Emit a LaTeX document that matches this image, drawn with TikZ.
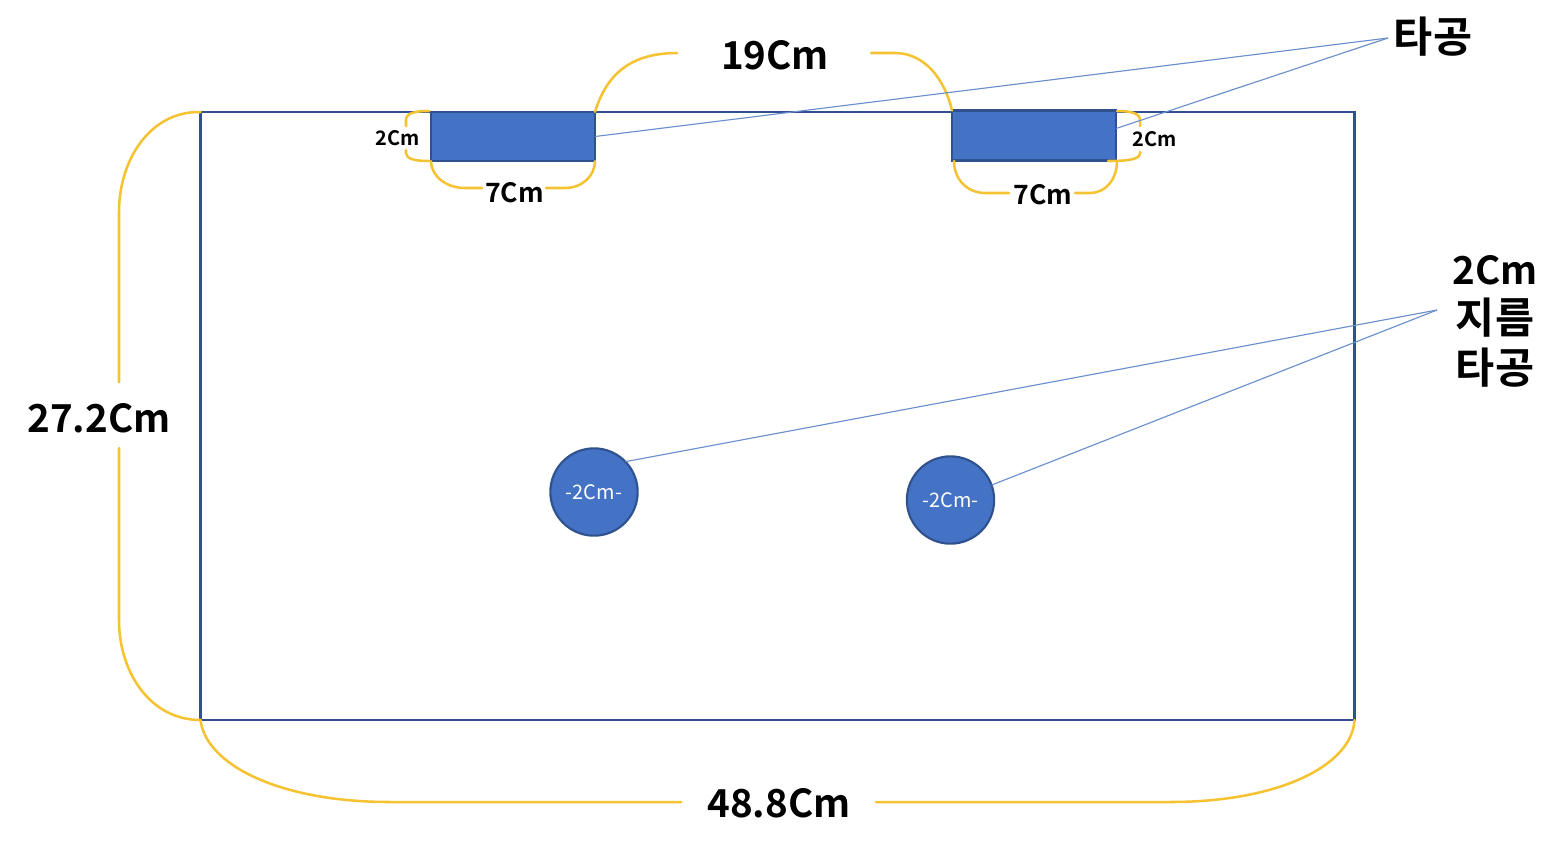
\documentclass[tikz,border=0pt]{standalone}
\usepackage{fontspec}
\setmainfont{Noto Sans CJK KR}[BoldFont={Noto Sans CJK KR Bold}]
\definecolor{fillblue}{HTML}{4472C4}
\definecolor{edgeblue}{HTML}{2F528F}
\definecolor{leadblue}{HTML}{6A8FCE}
\definecolor{brace}{HTML}{F5C232}
\newcommand{\hg}{\fontsize{32}{37.25}\selectfont}
\tikzset{
  brc/.style={draw=brace,line width=1.9pt,line cap=round},
  lead/.style={draw=leadblue,line width=0.85pt},
  hole/.style={draw=edgeblue,line width=1.6pt,fill=fillblue,inner sep=0,outer sep=0},
  round hole/.style={hole,circle,minimum size=65.5bp,text=white,font=\fontsize{15}{15}\selectfont},
  big/.style={font=\bfseries\fontsize{29}{29}\selectfont,text=black,inner sep=0},
  mid/.style={font=\bfseries\fontsize{20}{20}\selectfont,text=black,inner sep=0},
  small/.style={font=\bfseries\fontsize{15}{15}\selectfont,text=black,inner sep=0},
}
\begin{document}
\begin{tikzpicture}[x=0.75bp,y=-0.75bp]
\useasboundingbox (0,0) rectangle (1562,850);
\fill[white] (0,0) rectangle (1562,850);
\node[draw=edgeblue,line width=1.6pt,inner sep=0,outer sep=0,minimum width=865.5bp,minimum height=456bp] (plate) at (777.5,416) {};
\node[big] (t19) at (775,55) {19Cm};
\node[big] (t272) at (99,418) {27.2Cm};
\node[big] (t488) at (779,803) {48.8Cm};
\node[mid] (t7a) at (514.5,193) {7Cm};
\node[mid] (t7b) at (1043,195) {7Cm};
\node[small] (t2a) at (398,138) {2Cm};
\node[small] (t2b) at (1155,139) {2Cm};
\node[big,font=\bfseries\hg] (ttop) at (1433,37) {타공};
\node[big,align=center,font=\bfseries\fontsize{29}{37.25}\selectfont] (tdia) at (1495,321) {2Cm\\{\hg 지름}\\{\hg 타공}};
\coordinate (leadTop) at (1388,38);
\coordinate (leadDia) at (1437,310);
\node[hole,minimum width=123bp,minimum height=37bp] (slotA) at (513,136.5) {};
\node[hole,minimum width=123bp,minimum height=37.5bp] (slotB) at (1034,135.5) {};
\node[round hole] (holeA) at (594,492) {-2Cm-};
\node[round hole] (holeB) at (950.5,500) {-2Cm-};
% braces
\draw[brc] (plate.north west) .. controls (150,111) and (119,160) .. (119,212) -- (119,382);
\draw[brc] (119,448) -- (119,620) .. controls (119,672) and (150,720) .. (plate.south west);
\draw[brc] (plate.south west) .. controls (206,765) and (280,802) .. (390,802) -- (681,802);
\draw[brc] (876,802) -- (1170,802) .. controls (1280,802) and (1352,765) .. (plate.south east);
\draw[brc] (slotA.north east) .. controls (605,80) and (625,53) .. (677,53);
\draw[brc] (871,53) -- (895,53) .. controls (925,53) and (945,80) .. (slotB.north west);
\draw[brc] (slotA.south west) .. controls (431,175) and (445,188) .. (465,188) -- (482,188);
\draw[brc] (546,188) -- (565,188) .. controls (583,188) and (595,175) .. (slotA.south east);
\draw[brc] (954,161) .. controls (954,180) and (968,193) .. (985,193) -- (1009,193);
\draw[brc] (1075,193) -- (1090,193) .. controls (1105,193) and (1117,180) .. (1117,161);
\draw[brc] (429,111) .. controls (415,111) and (406,113) .. (406,120) -- (406,126);
\draw[brc] (406,150) -- (406,153) .. controls (406,159) and (415,161) .. (429,161);
\draw[brc] (1117,111) .. controls (1130,111) and (1140,113) .. (1140,120) -- (1140,126);
\draw[brc] (1140,152) -- (1140,153) .. controls (1140,159) and (1130,161) .. (1108,161);
% leaders
\draw[lead] (slotA.east) -- (leadTop);
\draw[lead] (slotB.east) ++(0,-7) -- (leadTop);
\draw[lead] (holeA.44) -- (leadDia);
\draw[lead] (holeB.20) -- (leadDia);
\end{tikzpicture}
\end{document}
